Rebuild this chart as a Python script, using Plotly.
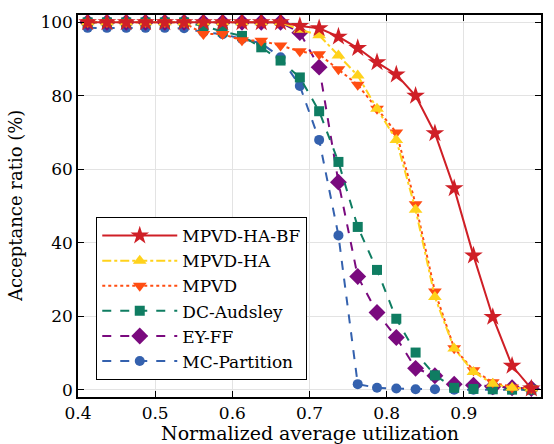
import plotly.graph_objects as go

x_util = [0.4125, 0.4375, 0.4625, 0.4875, 0.5125, 0.5375, 0.5625, 0.5875, 0.6125, 0.6375,
          0.6625, 0.6875, 0.7125, 0.7375, 0.7625, 0.7875, 0.8125, 0.8375, 0.8625, 0.8875,
          0.9125, 0.9375, 0.9625, 0.9875]

mpvd_ha_bf = [100, 100, 100, 100, 100, 100, 100, 100, 100, 100, 100, 99.0, 98.4, 96.1, 93.0, 89.1,
              85.8, 80.0, 69.8, 54.8, 36.5, 19.8, 6.5, 0.3]
mpvd_ha = [100, 100, 100, 100, 100, 100, 100, 100, 100, 100, 100, 98.0, 96.5, 91.0, 85.5, 76.5,
           68.0, 49.0, 25.2, 11.2, 4.8, 1.6, 0.5, 0.3]
mpvd = [100, 100, 100, 100, 100, 100, 96.8, 96.8, 95.1, 95.0, 93.7, 92.1, 91.3, 87.2, 83.0, 76.5,
        70.0, 50.5, 26.7, 11.3, 5.3, 2.0, 0.6, 0.3]
dc_audsley = [100, 100, 100, 100, 100, 100, 99.0, 97.5, 96.3, 93.2, 89.6, 85.0, 75.8, 62.0, 44.3,
              32.6, 19.3, 10.1, 3.9, 0.5, 0.2, 0.1, 0.0, 0.0]
ey_ff = [100, 100, 100, 100, 100, 100, 100, 100, 100, 100, 100, 97.2, 87.8, 56.5, 30.8, 21.0,
         14.2, 5.8, 3.8, 1.5, 1.2, 0.8, 0.5, 0.3]
mc_partition = [98.5, 98.5, 98.5, 98.5, 98.5, 98.4, 97.3, 96.8, 95.5, 94.3, 90.5, 82.7, 68.0,
                42.0, 1.5, 0.5, 0.3, 0.1, 0.1, 0.0, 0.0, 0.0, 0.0, 0.0]

x_ticks = [0.4, 0.5, 0.6, 0.7, 0.8, 0.9, 1.0]
x_tick_labels = ["0.4", "0.5", "0.6", "0.7", "0.8", "0.9", "1.0"]
y_ticks = [0, 20, 40, 60, 80, 100]

series = [
    ("MC-Partition", mc_partition, "#3461ae", "dash", "circle", 10),
    ("EY-FF", ey_ff, "#7a0a7e", "dash", "diamond", 13),
    ("DC-Audsley", dc_audsley, "#0f7d62", "dash", "square", 10),
    ("MPVD", mpvd, "#ff4d12", "dot", "triangle-down", 12),
    ("MPVD-HA", mpvd_ha, "#ffd21c", "dashdot", "triangle-up", 12),
    ("MPVD-HA-BF", mpvd_ha_bf, "#cf1f26", "solid", "star", 14),
]

fig = go.Figure()
for name, vals, color, dash, symbol, size in series:
    fig.add_trace(go.Scatter(
        x=x_util, y=vals, name=name, mode="lines+markers",
        line=dict(color=color, dash=dash, width=2),
        marker=dict(symbol=symbol, size=size, color=color, line=dict(width=0)),
    ))

font_family = "DejaVu Serif"
fig.update_layout(
    width=554, height=444,
    margin=dict(l=78, r=13, t=15, b=47, autoexpand=False),
    paper_bgcolor="white", plot_bgcolor="white",
    font=dict(family=font_family, color="black", size=17),
    showlegend=True,
    legend=dict(
        traceorder="reversed",
        x=0.039, y=0.045, xanchor="left", yanchor="bottom",
        bgcolor="white", bordercolor="black", borderwidth=1.2,
        font=dict(family=font_family, size=17, color="black"),
        itemwidth=75,
    ),
    annotations=[
        dict(text="Normalized average utilization", xref="paper", yref="paper",
             x=0.5, y=-0.093, xanchor="center", yanchor="middle", showarrow=False,
             font=dict(family=font_family, size=19, color="black")),
        dict(text="Acceptance ratio (%)", xref="paper", yref="paper",
             x=-0.136, y=0.5, xanchor="center", yanchor="middle", showarrow=False,
             textangle=-90, font=dict(family=font_family, size=18, color="black")),
    ],
)
fig.update_xaxes(
    range=[0.4, 1.0], tickmode="array", tickvals=x_ticks, ticktext=x_tick_labels,
    ticks="inside", ticklen=6, tickwidth=1.3, tickcolor="black",
    showline=True, linecolor="black", linewidth=1.5, mirror="ticks",
    showgrid=True, gridcolor="#e3e3e3", gridwidth=1, zeroline=False,
    automargin=False, tickfont=dict(size=17),
)
fig.update_yaxes(
    range=[-2, 102], tickmode="array", tickvals=y_ticks,
    ticks="inside", ticklen=6, tickwidth=1.3, tickcolor="black",
    showline=True, linecolor="black", linewidth=1.5, mirror="ticks",
    showgrid=True, gridcolor="#e3e3e3", gridwidth=1, zeroline=False,
    automargin=False, tickfont=dict(size=17),
)

fig.write_html("out.html")
